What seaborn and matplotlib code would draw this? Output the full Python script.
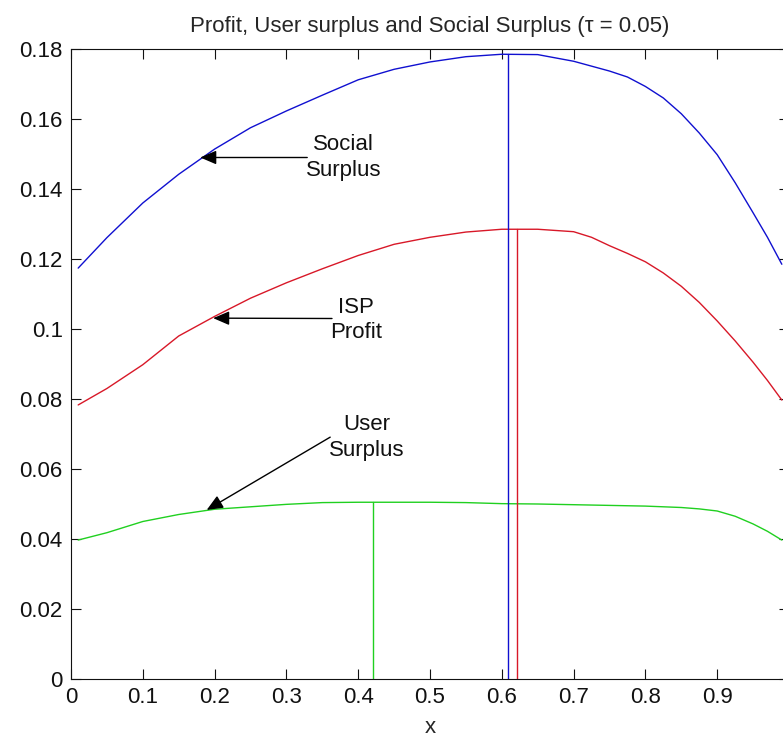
import numpy as np
import pandas as pd
import seaborn as sns
from matplotlib import pyplot as plt
from matplotlib import font_manager

# values
x_vals = [0.01, 0.05, 0.1, 0.15, 0.2, 0.25, 0.3, 0.35, 0.4, 0.45, 0.5,
          0.55, 0.6, 0.65, 0.7, 0.725, 0.75, 0.775, 0.8, 0.825, 0.85,
          0.875, 0.9, 0.925, 0.95, 0.97, 0.99]
social = [0.1174, 0.1261, 0.1360, 0.1442, 0.1514, 0.1575, 0.1623, 0.1668, 0.1712, 0.1742, 0.1763,
          0.1778, 0.1785, 0.1784, 0.1765, 0.1751, 0.1737, 0.1720, 0.1693, 0.1660, 0.1615,
          0.1560, 0.1498, 0.1418, 0.1332, 0.1262, 0.1185]
profit = [0.0783, 0.0830, 0.0898, 0.0980, 0.1036, 0.1088, 0.1132, 0.1172, 0.1210, 0.1242, 0.1262,
          0.1277, 0.1285, 0.1285, 0.1278, 0.1262, 0.1238, 0.1216, 0.1192, 0.1160, 0.1122,
          0.1076, 0.1023, 0.0966, 0.0905, 0.0853, 0.0797]
user = [0.0397, 0.0418, 0.0450, 0.0470, 0.0485, 0.0492, 0.0499, 0.0504, 0.0505, 0.0505, 0.0505,
        0.0504, 0.0501, 0.0500, 0.0498, 0.0497, 0.0496, 0.0495, 0.0494, 0.0492, 0.0490,
        0.0486, 0.0480, 0.0465, 0.0443, 0.0422, 0.0397]

series_names = ['Social\nSurplus', 'ISP\nProfit', 'User\nSurplus']
series_colors = ['#1010d0', '#d81828', '#20d020']
opt_x = [0.609, 0.621, 0.421]          # argmax of each curve
opt_val = [0.1785, 0.1285, 0.0505]

# arrow tip, arrow tail, text centre (data coords)
arrow_tip = [(0.180, 0.1490), (0.198, 0.1031), (0.189, 0.0483)]
arrow_tail = [(0.329, 0.1490), (0.3635, 0.1030), (0.361, 0.0691)]
label_pos = [(0.380, 0.1489), (0.397, 0.1026), (0.412, 0.0690)]

title = 'Profit, User surplus and Social Surplus (\u03c4 = 0.05)'

sns.set_style('ticks')
names = {f.name for f in font_manager.fontManager.ttflist}
fam = ['Liberation Sans Narrow'] if 'Liberation Sans Narrow' in names else []
plt.rcParams['font.family'] = fam + ['Liberation Sans', 'DejaVu Sans']
fs = 18 if fam else 16

df = pd.DataFrame({'x': x_vals, 'social': social, 'profit': profit, 'user': user})

fig = plt.figure(figsize=(7.83, 7.40), dpi=100)
ax = fig.add_axes([71 / 783, 61 / 740, 718 / 783, 630 / 740])

for col, c in zip(['social', 'profit', 'user'], series_colors):
    sns.lineplot(data=df, x='x', y=col, color=c, linewidth=1.0, ax=ax)

for xo, yo, c in zip(opt_x, opt_val, series_colors):
    ax.plot([xo, xo], [0, yo], color=c, linewidth=1.0)

for tip, tail, pos, name in zip(arrow_tip, arrow_tail, label_pos, series_names):
    ax.annotate('', xy=tip, xytext=tail,
                arrowprops=dict(arrowstyle='-|>,head_length=0.7,head_width=0.3',
                                color='black', lw=1.0, shrinkA=0, shrinkB=0,
                                mutation_scale=14))
    ax.text(pos[0], pos[1], name, ha='center', va='center', fontsize=fs,
            linespacing=1.3, color='#111111')

ax.set_xlim(0, 1)
ax.set_ylim(0, 0.18)
ax.set_xticks(np.arange(0, 1.01, 0.1))
ax.set_yticks(np.arange(0, 0.181, 0.02))
# the "1" label falls outside the cropped picture
ax.set_xticklabels(['0', '0.1', '0.2', '0.3', '0.4', '0.5', '0.6', '0.7', '0.8', '0.9', ''])
ax.set_yticklabels(['0', '0.02', '0.04', '0.06', '0.08', '0.1', '0.12', '0.14', '0.16', '0.18'])
ax.tick_params(direction='in', length=7, width=0.8, top=True, right=True,
               labelsize=fs, pad=6, colors='#111111')
for s in ax.spines.values():
    s.set_linewidth(0.8)
    s.set_color('#111111')
    s.set_visible(True)
ax.set_xlabel('x', fontsize=fs, labelpad=6)
ax.set_ylabel('')
ax.set_title(title, fontsize=fs, pad=12)

fig.savefig('out.png', dpi=100)
